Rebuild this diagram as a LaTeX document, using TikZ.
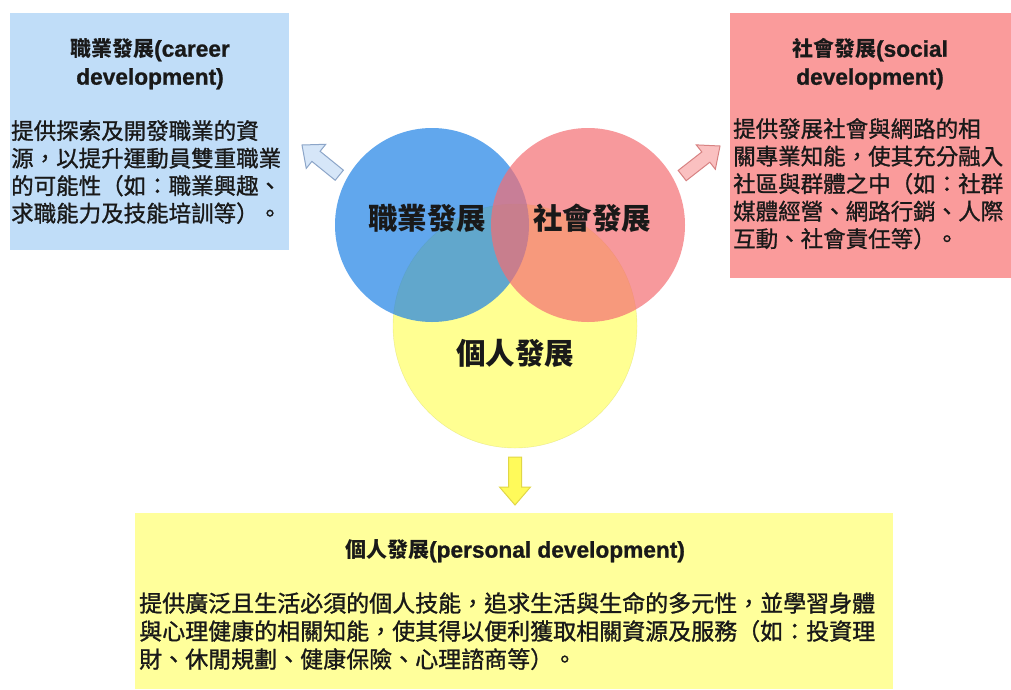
\documentclass[tikz,border=0pt]{standalone}
\usepackage{fontspec}
\setmainfont{Noto Sans CJK TC}
\newfontfamily\latb{Liberation Sans Bold}[Scale=1.08, FakeBold=1]
\newfontfamily\bodyfont{Noto Sans CJK TC}[FakeBold=1.1]
\definecolor{blueboxc}{RGB}{192,221,248}
\definecolor{redboxc}{RGB}{250,155,155}
\definecolor{yelboxc}{RGB}{255,255,155}
\definecolor{bluec}{RGB}{30,130,230}
\definecolor{redc}{RGB}{245,110,115}
\definecolor{yelc}{RGB}{255,255,100}
\definecolor{txt}{RGB}{25,25,25}
\newcommand\lt[1]{{\latb #1}}
\tikzset{
  panel/.style={rectangle, inner sep=0, anchor=north west},
  ttl/.style={font=\bfseries\fontsize{21}{28}\selectfont, align=center, text=txt, inner sep=0},
  bodytxt/.style={font=\bodyfont\fontsize{22.5}{27.5}\selectfont, align=left, anchor=north west, text=txt, inner sep=0},
  venn/.style={circle, inner sep=0, fill opacity=0.7},
  vlabel/.style={font=\bfseries\fontsize{29.5}{30}\selectfont, text=txt, inner sep=0},
  blockarrow/.pic={\path[pic actions] (0pt,0pt) -- (-18pt,15.5pt) -- (-18pt,6.5pt) -- (-48pt,6.5pt) -- (-48pt,-6.5pt) -- (-18pt,-6.5pt) -- (-18pt,-15.5pt) -- cycle;}
}
\begin{document}
\begin{tikzpicture}[x=1pt,y=-1pt]
\useasboundingbox (0,0) rectangle (1011,689);
\fill[white] (0,0) rectangle (1011,689);
% panels
\node[panel, fill=blueboxc, minimum width=279pt, minimum height=237pt] (bbox) at (10,13) {};
\node[panel, fill=redboxc, minimum width=281pt, minimum height=265pt] (rbox) at (730,13) {};
\node[panel, fill=yelboxc, minimum width=758pt, minimum height=176pt] (ybox) at (135,513) {};
% titles
\node[ttl] (btitle) at (150,64) {職業發展\lt{(career}\\\lt{development)}};
\node[ttl] (rtitle) at (870,64) {社會發展\lt{(social}\\\lt{development)}};
\node[ttl] (ytitle) at (515,551) {個人發展\lt{(personal development)}};
% bodies
\node[bodytxt] (bbody) at (11,120) {提供探索及開發職業的資\\源，以提升運動員雙重職業\\的可能性（如：職業興趣、\\求職能力及技能培訓等）。};
\node[bodytxt] (rbody) at (733,118) {提供發展社會與網路的相\\關專業知能，使其充分融入\\社區與群體之中（如：社群\\媒體經營、網路行銷、人際\\互動、社會責任等）。};
\node[bodytxt, font=\bodyfont\fontsize{23}{28}\selectfont] (ybody) at (139,592) {提供廣泛且生活必須的個人技能，追求生活與生命的多元性，並學習身體\\與心理健康的相關知能，使其得以便利獲取相關資源及服務（如：投資理\\財、休閒規劃、健康保險、心理諮商等）。};
% venn circles
\node[venn, fill=yelc, draw=yelc!80!black, draw opacity=0.4, minimum size=244pt] (ycirc) at (515,326) {};
\node[venn, fill=bluec, minimum size=194pt] (bcirc) at (432,225) {};
\node[venn, fill=redc, minimum size=194pt] (rcirc) at (588,225) {};
\node[vlabel] (blab) at (427,218) {職業發展};
\node[vlabel] (rlab) at (592,218) {社會發展};
\node[vlabel] (ylab) at (515,353) {個人發展};
% arrows
\coordinate (btip) at (302,145);
\coordinate (rtip) at (720,146);
\coordinate (ytip) at (515,505);
\pic[draw={rgb,255:red,140;green,165;blue,200}, fill={rgb,255:red,214;green,230;blue,248}, line width=1pt, rotate=141] at (btip) {blockarrow};
\pic[draw={rgb,255:red,215;green,130;blue,130}, fill={rgb,255:red,250;green,192;blue,192}, line width=1pt, rotate=38] at (rtip) {blockarrow};
\pic[draw={rgb,255:red,225;green,215;blue,70}, fill={rgb,255:red,255;green,250;blue,90}, line width=1pt, rotate=-90] at (ytip) {blockarrow};
\end{tikzpicture}
\end{document}
